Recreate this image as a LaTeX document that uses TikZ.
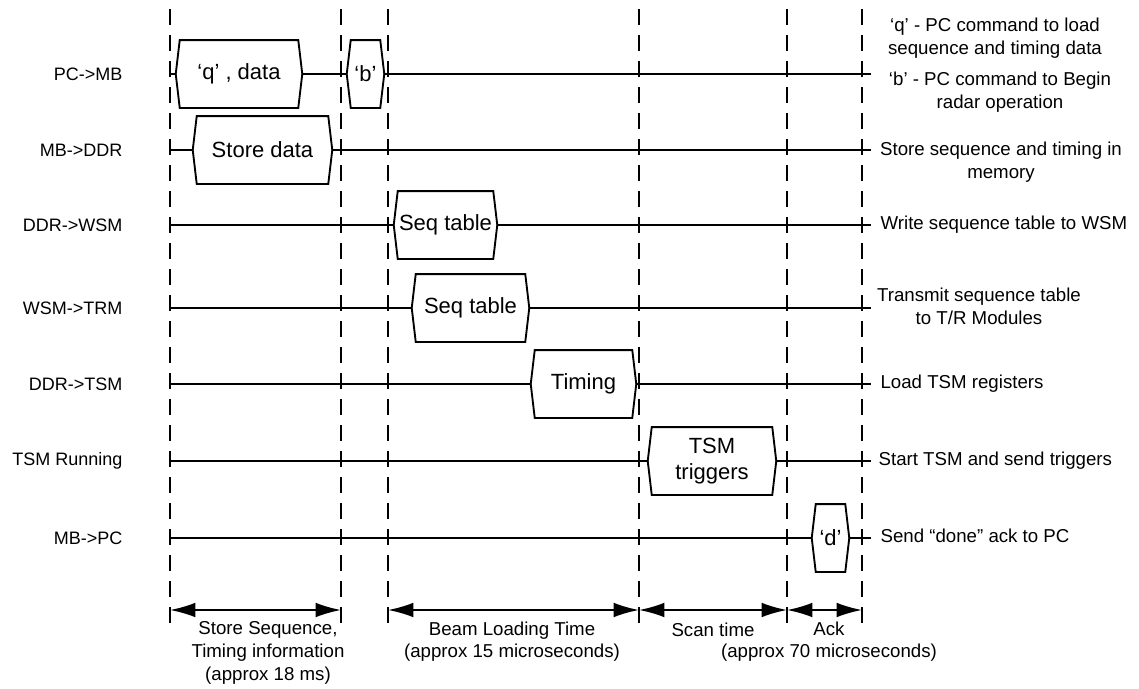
\documentclass[tikz,border=0pt]{standalone}
\usepackage{fontspec}
\setmainfont{Liberation Sans}
\usetikzlibrary{arrows.meta}

\tikzset{
  lbl/.style={font=\fontsize{14}{17}\selectfont, inner sep=1pt, align=center},
  rowname/.style={font=\fontsize{13.5}{17}\selectfont, inner sep=1pt, anchor=east},
  sig/.style={font=\fontsize{16.5}{20}\selectfont, inner sep=0pt, minimum height=50.5pt, align=center},
  wire/.style={line width=1.4pt},
  divider/.style={line width=1.5pt, dash pattern=on 12pt off 7.5pt},
  span/.style={line width=1.4pt, {Latex[length=19pt,width=11pt]}-{Latex[length=19pt,width=11pt]}},
}

\begin{document}
\begin{tikzpicture}[x=0.75pt,y=-0.75pt]
\useasboundingbox (0,0) rectangle (1139,689);

% time markers
\foreach \t in {170,341,388,639,787,862}{
  \draw[divider] (\t,9) -- (\t,633);
}

% signal rows
\foreach \n/\y/\txt in {pcmb/74/PC->MB, mbddr/150/MB->DDR, ddrwsm/225/DDR->WSM,
    wsmtrm/308/WSM->TRM, ddrtsm/384/DDR->TSM, tsmrun/461/TSM Running, mbpc/538/MB->PC}{
  \coordinate (\n-L) at (170,\y);
  \coordinate (\n-R) at (871,\y);
  \node[rowname] (\n-name) at (124,\y) {\txt};
}

% data boxes
\node[sig, minimum width=94.5pt] (q) at (239,74) {‘q’ , data};
\node[sig, minimum width=27.75pt] (b) at (365.5,74) {‘b’};
\node[sig, minimum width=104.25pt] (store) at (262.5,150) {Store data};
\node[sig, minimum width=77.25pt] (seqa) at (445.5,225) {Seq table};
\node[sig, minimum width=87.75pt] (seqb) at (470.5,308) {Seq table};
\node[sig, minimum width=78.75pt] (timing) at (583.5,384) {Timing};
\node[sig, minimum width=96pt] (trig) at (712,461) {TSM\\triggers};
\node[sig, minimum width=27.75pt] (d) at (830.5,538) {‘d’};

\foreach \bx in {q,b,store,seqa,seqb,timing,trig,d}{
  \draw[wire] (\bx.west) -- ([xshift=3pt]\bx.north west) -- ([xshift=-3pt]\bx.north east)
    -- (\bx.east) -- ([xshift=-3pt]\bx.south east) -- ([xshift=3pt]\bx.south west) -- cycle;
}

\draw[wire] (pcmb-L) -- (q.west);
\draw[wire] (q.east) -- (b.west);
\draw[wire] (b.east) -- (pcmb-R);
\draw[wire] (mbddr-L) -- (store.west);
\draw[wire] (store.east) -- (mbddr-R);
\draw[wire] (ddrwsm-L) -- (seqa.west);
\draw[wire] (seqa.east) -- (ddrwsm-R);
\draw[wire] (wsmtrm-L) -- (seqb.west);
\draw[wire] (seqb.east) -- (wsmtrm-R);
\draw[wire] (ddrtsm-L) -- (timing.west);
\draw[wire] (timing.east) -- (ddrtsm-R);
\draw[wire] (tsmrun-L) -- (trig.west);
\draw[wire] (trig.east) -- (tsmrun-R);
\draw[wire] (mbpc-L) -- (d.west);
\draw[wire] (d.east) -- (mbpc-R);

% notes on the right
\node[lbl] (qnote) at (995,38) {‘q’ - PC command to load\\sequence and timing data};
\node[lbl] (bnote) at (1000,92) {‘b’ - PC command to Begin\\radar operation};
\node[lbl] (storenote) at (1001,162) {Store sequence and timing in\\memory};
\node[lbl, anchor=west] (wsmnote) at (879,225) {Write sequence table to WSM};
\node[lbl] (trmnote) at (979,306) {Transmit sequence table\\to T/R Modules};
\node[lbl, anchor=west] (tsmnote) at (879,384) {Load TSM registers};
\node[lbl, anchor=west] (runnote) at (877,461) {Start TSM and send triggers};
\node[lbl, anchor=west] (acknote) at (879,536) {Send “done” ack to PC};

% phase spans
\coordinate (m1) at (170,610);
\coordinate (m2) at (341,610);
\coordinate (m3) at (388,610);
\coordinate (m4) at (639,610);
\coordinate (m5) at (787,610);
\coordinate (m6) at (862,610);
\draw[span] (m1) -- (m2);
\draw[span] (m3) -- (m4);
\draw[span] (m4) -- (m5);
\draw[span] (m5) -- (m6);

\node[lbl] (storespan) at (268,653) {Store Sequence,\\Timing information\\(approx 18 ms)};
\node[lbl] (beamspan) at (512,641.5) {Beam Loading Time\\(approx 15 microseconds)};
\node[lbl] (scanspan) at (713,630) {Scan time};
\node[lbl] (ackspan) at (829,641.5) {Ack\\(approx 70 microseconds)};
\end{tikzpicture}
\end{document}
